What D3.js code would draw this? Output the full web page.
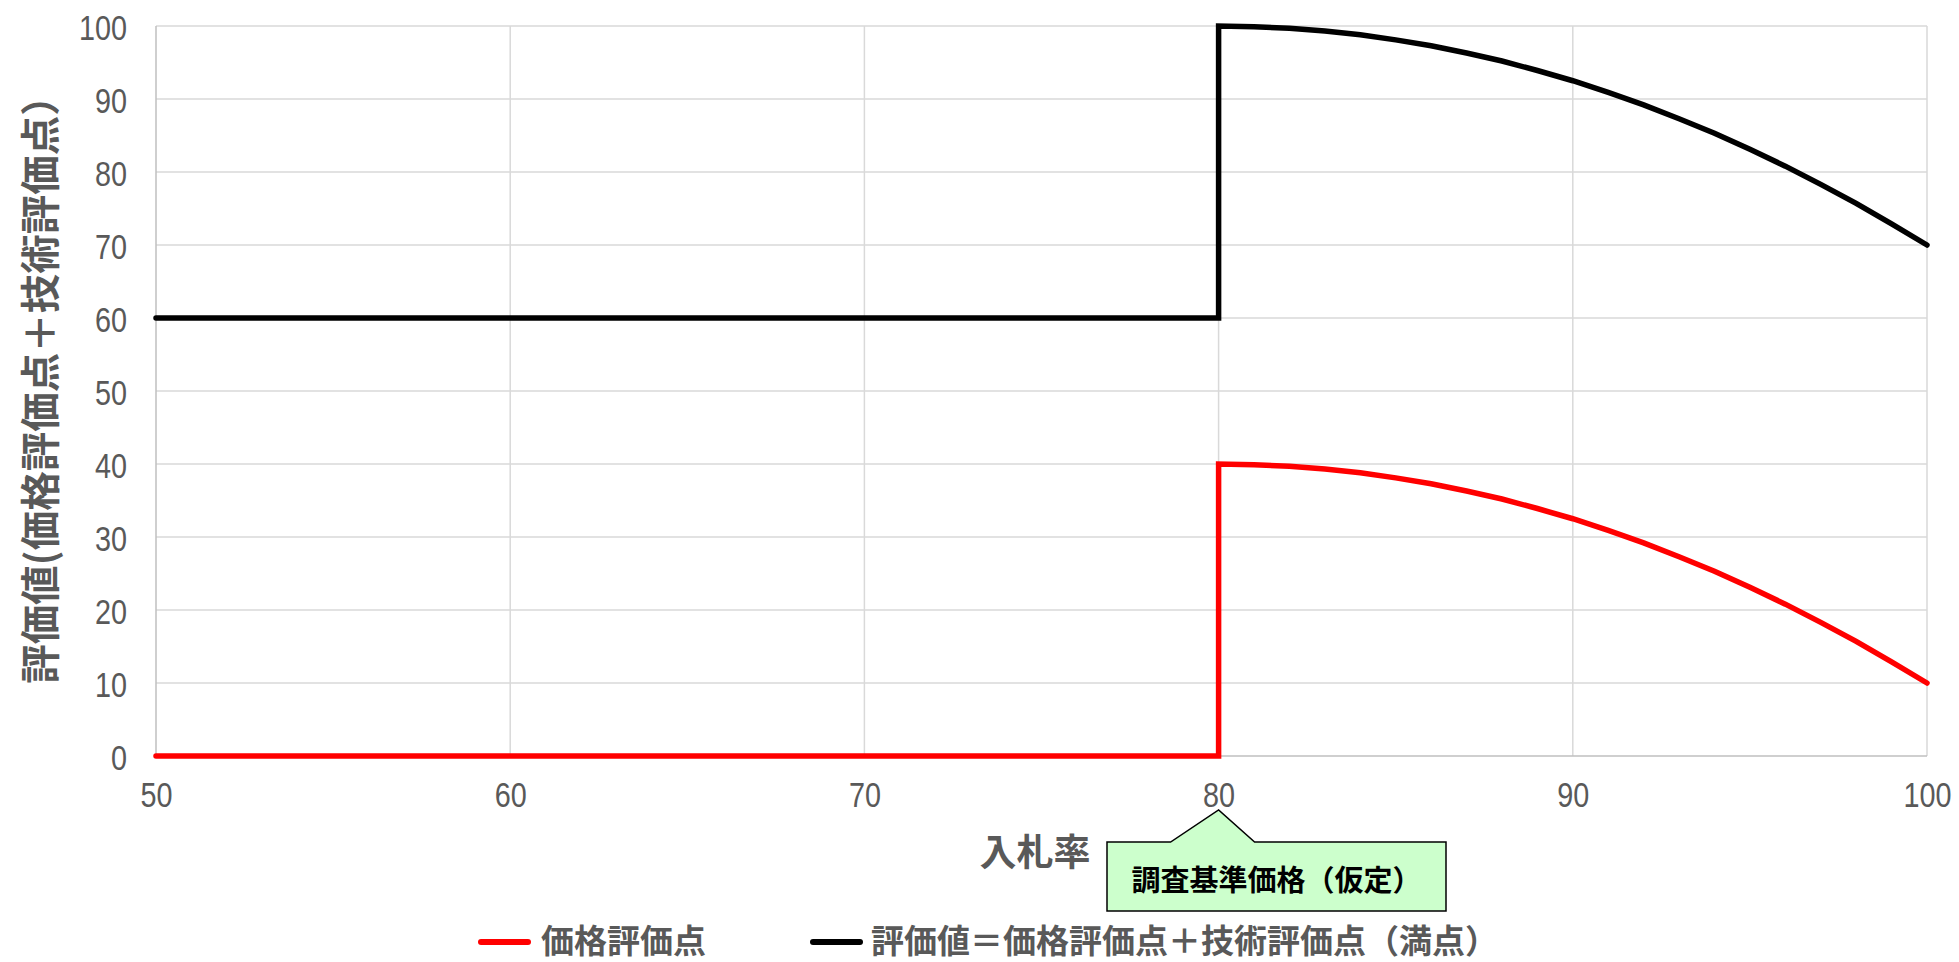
<!DOCTYPE html>
<html>
<head>
<meta charset="utf-8">
<script src="https://cdn.jsdelivr.net/npm/d3@7"></script>
<style>
  html, body { margin: 0; padding: 0; background: #fff; }
  svg { display: block; }
  .num { font-family: "Liberation Sans", Arimo, sans-serif; }
  .jp { font-family: "Noto Sans CJK JP", "Noto Sans CJK SC", sans-serif; font-weight: bold; }
</style>
</head>
<body>
<svg id="chart" width="1959" height="962"></svg>
<script>
// ---- data ----
const xTicks = [50, 60, 70, 80, 90, 100];
const yTicks = [0, 10, 20, 30, 40, 50, 60, 70, 80, 90, 100];
const bidRate = [50, 80, 80, 81, 82, 83, 84, 85, 86, 87, 88, 89, 90, 91, 92, 93, 94, 95, 96, 97, 98, 99, 100];
const priceScore = [0, 0, 40, 39.9, 39.7, 39.3, 38.8, 38.1, 37.3, 36.3, 35.2, 33.9, 32.5, 30.9, 29.2, 27.3, 25.3, 23.1, 20.8, 18.3, 15.7, 12.9, 10];
const totalScore = [60, 60, 100, 99.9, 99.7, 99.3, 98.8, 98.1, 97.3, 96.3, 95.2, 93.9, 92.5, 90.9, 89.2, 87.3, 85.3, 83.1, 80.8, 78.3, 75.7, 72.9, 70];
const seriesNames = ["価格評価点", "評価値＝価格評価点＋技術評価点（満点）"];
const seriesColors = ["#FF0000", "#000000"];
const xTitle = "入札率";
const yTitle = "評価値(価格評価点＋技術評価点）";
const calloutText = "調査基準価格（仮定）";
const calloutX = 80;

(function () {
// ---- layout ----
const svg = d3.select("#chart");
const pL = 156, pR = 1927, pT = 26, pB = 756;
const x = d3.scaleLinear().domain([50, 100]).range([pL, pR]);
const y = d3.scaleLinear().domain([0, 100]).range([pB, pT]);
const narrow = 0.8;

// gridlines
const grid = svg.append("g");
grid.selectAll("line.h").data(yTicks.filter(d => d > 0)).join("line")
  .attr("class", "h")
  .attr("x1", pL).attr("x2", pR)
  .attr("y1", d => y(d)).attr("y2", d => y(d))
  .attr("stroke", "#D9D9D9").attr("stroke-width", 1.5);
grid.selectAll("line.v").data(xTicks.filter(d => d > 50)).join("line")
  .attr("class", "v")
  .attr("x1", d => x(d)).attr("x2", d => x(d))
  .attr("y1", pT).attr("y2", pB)
  .attr("stroke", "#D9D9D9").attr("stroke-width", 1.5);

// axes lines
svg.append("line").attr("x1", pL).attr("x2", pL).attr("y1", pT).attr("y2", pB)
  .attr("stroke", "#BFBFBF").attr("stroke-width", 1.5);
svg.append("line").attr("x1", pL).attr("x2", pR).attr("y1", pB).attr("y2", pB)
  .attr("stroke", "#BFBFBF").attr("stroke-width", 1.5);

// axes via d3
const yAxis = d3.axisLeft(y).tickValues(yTicks).tickSize(0).tickPadding(29);
const gy = svg.append("g").attr("transform", `translate(${pL},0)`).call(yAxis);
gy.select(".domain").remove();
gy.selectAll("text").attr("class", "num").attr("font-size", 36).attr("fill", "#595959")
  .attr("x", 0).attr("dy", null).attr("text-anchor", "end")
  .attr("transform", `translate(-29,13) scale(${narrow},1)`);

const xAxis = d3.axisBottom(x).tickValues(xTicks).tickSize(0).tickPadding(20);
const gx = svg.append("g").attr("transform", `translate(0,${pB})`).call(xAxis);
gx.select(".domain").remove();
gx.selectAll("text").attr("class", "num").attr("font-size", 36).attr("fill", "#595959")
  .attr("y", 0).attr("dy", null).attr("text-anchor", "middle")
  .attr("transform", `translate(0,51) scale(${narrow},1)`);

// series
const line = d3.line().x(d => x(d[0])).y(d => y(d[1]));
const series = [priceScore, totalScore];
series.forEach((vals, i) => {
  const pts = bidRate.map((b, j) => [b, vals[j]]);
  svg.append("path").attr("d", line(pts))
    .attr("fill", "none").attr("stroke", seriesColors[i]).attr("stroke-width", 5.5)
    .attr("stroke-linejoin", "miter").attr("stroke-linecap", "round");
});

// axis titles
svg.append("text").attr("class", "jp")
  .attr("x", 1035).attr("y", 866)
  .attr("text-anchor", "middle").attr("font-size", 37).attr("fill", "#595959")
  .text(xTitle);
svg.append("text").attr("class", "jp")
  .attr("transform", `translate(37,380) rotate(-90)`)
  .attr("text-anchor", "middle").attr("dominant-baseline", "central")
  .attr("font-size", 39.5).attr("fill", "#595959")
  .text(yTitle);

// callout
const tipX = x(calloutX);
const bx0 = 1107, bx1 = 1446, by0 = 842, by1 = 911, tipY = 810;
const calloutPath = `M${bx0},${by0} L${tipX - 48},${by0} L${tipX},${tipY} L${tipX + 36},${by0} L${bx1},${by0} L${bx1},${by1} L${bx0},${by1} Z`;
svg.append("path").attr("d", calloutPath)
  .attr("fill", "#CCFFCC").attr("stroke", "#000").attr("stroke-width", 1.5);
svg.append("text").attr("class", "jp")
  .attr("x", (bx0 + bx1) / 2).attr("y", 878)
  .attr("text-anchor", "middle").attr("dominant-baseline", "central")
  .attr("font-size", 29).attr("fill", "#000")
  .text(calloutText);

// legend
const legendItems = [
  { lx: 478, tx: 541 },
  { lx: 810, tx: 871 }
];
legendItems.forEach((it, i) => {
  svg.append("line").attr("x1", it.lx + 3).attr("x2", it.lx + 50).attr("y1", 942).attr("y2", 942)
    .attr("stroke", seriesColors[i]).attr("stroke-width", 6).attr("stroke-linecap", "round");
  svg.append("text").attr("class", "jp")
    .attr("x", it.tx).attr("y", 939).attr("dominant-baseline", "central")
    .attr("font-size", 33).attr("fill", "#595959")
    .text(seriesNames[i]);
});
})();
</script>
</body>
</html>
